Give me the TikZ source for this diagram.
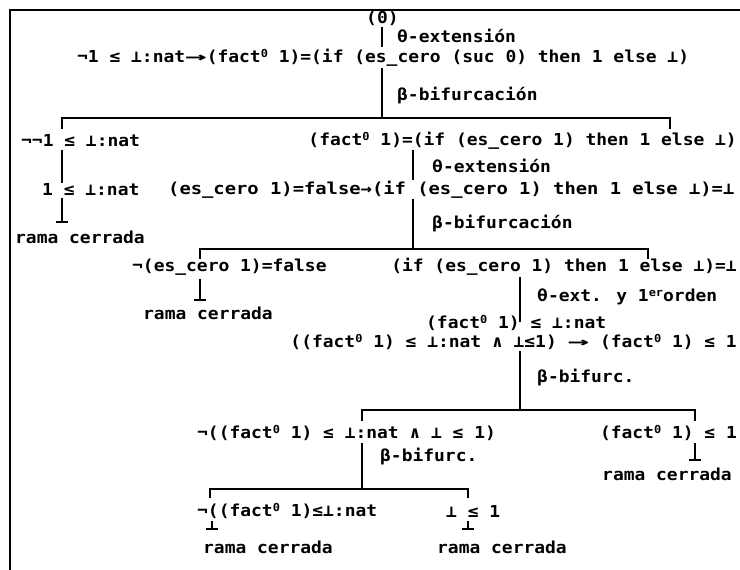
\documentclass[tikz,border=0pt]{standalone}
\usepackage{fontspec}
\newfontfamily\mono[FakeStretch=1.087]{DejaVu Sans Mono Bold}
\newfontfamily\monow[FakeStretch=1.14]{DejaVu Sans Mono Bold}
\newcommand{\msup}[1]{\raisebox{0.55ex}{\fontsize{11}{11}\selectfont #1}}
\newcommand{\lar}{\scalebox{2}[1]{→}}
\begin{document}
\begin{tikzpicture}[x=1pt,y=-1pt,
  txt/.style={inner sep=0pt, anchor=west, font=\mono\fontsize{16.5}{16.5}\selectfont},
  wtxt/.style={txt, font=\monow\fontsize{16.5}{16.5}\selectfont},
  rtxt/.style={txt, anchor=east},
  conn/.style={line width=1.3pt},
  frame/.style={line width=1.8pt}]
\useasboundingbox (0,0) rectangle (740,570);
% frame
\coordinate (fa) at (740,10);
\coordinate (fb) at (10,10);
\coordinate (fc) at (10,570);
\draw[frame] (fa) -- (fb) -- (fc);

% level 0
\node[txt] (n0) at (366,18) {(0)};
\coordinate (v0a) at (382,27); \coordinate (v0b) at (382,47);
\draw[conn] (v0a) -- (v0b);
\node[txt] (lab0) at (397,36) {θ-extensión};
\node[txt] (n1) at (77,58) {¬1 ≤ ⊥:nat\lar(fact\msup{0} 1)=(if (es\_cero (suc 0) then 1 else ⊥)};
\coordinate (v1a) at (382,68); \coordinate (v1b) at (382,118);
\draw[conn] (v1a) -- (v1b);
\node[txt] (lab1) at (397,96) {β-bifurcación};
\coordinate (b1l) at (62,118); \coordinate (b1r) at (670,118);
\coordinate (b1ld) at (62,129); \coordinate (b1rd) at (670,129);
\draw[conn] (b1ld) -- (b1l) -- (b1r) -- (b1rd);

% left branch
\node[txt] (n2) at (21,141) {¬¬1 ≤ ⊥:nat};
\coordinate (v2a) at (62,150); \coordinate (v2b) at (62,183);
\draw[conn] (v2a) -- (v2b);
\node[txt] (n4) at (42,190) {1 ≤ ⊥:nat};
\coordinate (s1a) at (62,198); \coordinate (s1b) at (62,222);
\coordinate (s1l) at (56,222); \coordinate (s1r) at (68,222);
\draw[conn] (s1a) -- (s1b) (s1l) -- (s1r);
\node[txt] (n5) at (15,237) {rama cerrada};

% right branch
\node[rtxt] (n3) at (737,141) {(fact\msup{0} 1)=(if (es\_cero 1) then 1 else ⊥)};
\coordinate (v3a) at (413,150); \coordinate (v3b) at (413,180);
\draw[conn] (v3a) -- (v3b);
\node[txt] (lab2) at (432,166) {θ-extensión};
\node[wtxt] (n6) at (168,190) {(es\_cero 1)=false→(if (es\_cero 1) then 1 else ⊥)=⊥};
\coordinate (v4a) at (413,199); \coordinate (v4b) at (413,249);
\draw[conn] (v4a) -- (v4b);
\node[txt] (lab3) at (432,224) {β-bifurcación};
\coordinate (b2l) at (200,249); \coordinate (b2r) at (648,249);
\coordinate (b2ld) at (200,259); \coordinate (b2rd) at (648,259);
\draw[conn] (b2ld) -- (b2l) -- (b2r) -- (b2rd);

\node[txt] (n7) at (132,267) {¬(es\_cero 1)=false};
\coordinate (s2a) at (200,279); \coordinate (s2b) at (200,300);
\coordinate (s2l) at (194,300); \coordinate (s2r) at (206,300);
\draw[conn] (s2a) -- (s2b) (s2l) -- (s2r);
\node[txt] (n9) at (143,313) {rama cerrada};

\node[rtxt] (n8) at (737,267) {(if (es\_cero 1) then 1 else ⊥)=⊥};
\coordinate (v5a) at (520,277); \coordinate (v5b) at (520,322);
\draw[conn] (v5a) -- (v5b);
\node[txt] (lab4) at (537,297) {θ-ext. y 1\msup{er}orden};
\node[txt] (n10) at (426,323) {(fact\msup{0} 1) ≤ ⊥:nat};
\node[rtxt] (n11) at (737,342) {((fact\msup{0} 1) ≤ ⊥:nat ∧ ⊥≤1) \lar{} (fact\msup{0} 1) ≤ 1};
\coordinate (v6a) at (520,351); \coordinate (v6b) at (520,410);
\draw[conn] (v6a) -- (v6b);
\node[txt] (lab5) at (537,378) {β-bifurc.};
\coordinate (b3l) at (362,410); \coordinate (b3r) at (695,410);
\coordinate (b3ld) at (362,421); \coordinate (b3rd) at (695,421);
\draw[conn] (b3ld) -- (b3l) -- (b3r) -- (b3rd);

\node[rtxt] (n13) at (737,433) {(fact\msup{0} 1) ≤ 1};
\coordinate (s3a) at (695,443); \coordinate (s3b) at (695,460);
\coordinate (s3l) at (689,460); \coordinate (s3r) at (701,460);
\draw[conn] (s3a) -- (s3b) (s3l) -- (s3r);
\node[txt] (n14) at (602,474) {rama cerrada};

\node[txt] (n12) at (197,433) {¬((fact\msup{0} 1) ≤ ⊥:nat ∧ ⊥ ≤ 1)};
\coordinate (v7a) at (362,443); \coordinate (v7b) at (362,489);
\draw[conn] (v7a) -- (v7b);
\node[txt] (lab6) at (380,457) {β-bifurc.};
\coordinate (b4l) at (210,489); \coordinate (b4r) at (468,489);
\coordinate (b4ld) at (210,498); \coordinate (b4rd) at (468,498);
\draw[conn] (b4ld) -- (b4l) -- (b4r) -- (b4rd);

\node[txt] (n15) at (197,511) {¬((fact\msup{0} 1)≤⊥:nat};
\coordinate (s4a) at (212,521); \coordinate (s4b) at (212,529);
\coordinate (s4l) at (206,529); \coordinate (s4r) at (218,529);
\draw[conn] (s4a) -- (s4b) (s4l) -- (s4r);
\node[txt] (n17) at (203,547) {rama cerrada};

\node[txt] (n16) at (446,511) {⊥ ≤ 1};
\coordinate (s5a) at (468,521); \coordinate (s5b) at (468,529);
\coordinate (s5l) at (462,529); \coordinate (s5r) at (474,529);
\draw[conn] (s5a) -- (s5b) (s5l) -- (s5r);
\node[txt] (n18) at (437,547) {rama cerrada};
\end{tikzpicture}
\end{document}
